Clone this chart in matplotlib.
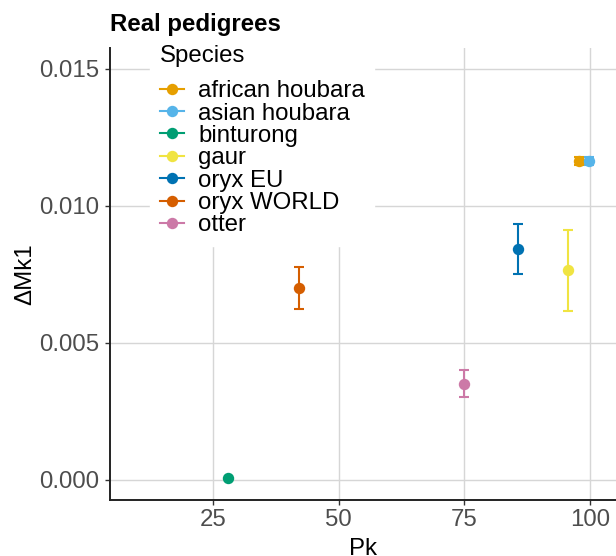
"""Real pedigrees: ΔMk1 vs Pk per species, with error bars."""
import matplotlib
matplotlib.use("Agg")
import matplotlib.pyplot as plt
from matplotlib.lines import Line2D

plt.rcParams["font.family"] = ["Liberation Sans", "DejaVu Sans"]

SPECIES = ["african houbara", "asian houbara", "binturong", "gaur",
           "oryx EU", "oryx WORLD", "otter"]
COLORS = ["#E69F00", "#56B4E9", "#009E73", "#F0E442",
          "#0072B2", "#D55E00", "#CC79A7"]

pk = [97.8, 99.8, 28.0, 95.6, 85.6, 42.1, 75.0]
dmk1 = [0.01164, 0.01164, 0.00007, 0.00766, 0.00843, 0.00701, 0.00350]
err_lo = [0.01148, 0.01148, 0.00007, 0.00618, 0.00752, 0.00624, 0.00303]
err_hi = [0.01180, 0.01180, 0.00007, 0.00911, 0.00934, 0.00777, 0.00401]

XTICKS = [25, 50, 75, 100]
YTICKS = [0.000, 0.005, 0.010, 0.015]

FS = 17.3
GREY_TXT = "#4D4D4D"

fig = plt.figure(figsize=(6.16, 5.56), dpi=100)
ax = fig.add_axes([110 / 616, 56 / 556, 506 / 616, 452 / 556])

for i, sp in enumerate(SPECIES):
    lo = dmk1[i] - err_lo[i]
    hi = err_hi[i] - dmk1[i]
    if hi > 0 or lo > 0:
        ax.errorbar(pk[i], dmk1[i], yerr=[[lo], [hi]], fmt="none",
                    ecolor=COLORS[i], elinewidth=1.5, capsize=3.4,
                    capthick=1.5, zorder=3)
    ax.plot(pk[i], dmk1[i], "o", color=COLORS[i], markersize=8.2,
            markeredgewidth=0, zorder=4)

ax.set_xlim(4.5, 105.2)
ax.set_ylim(-0.00073, 0.015766)
ax.set_xticks(XTICKS)
ax.set_yticks(YTICKS)
ax.set_xticklabels([str(t) for t in XTICKS])
ax.set_yticklabels([f"{t:.3f}" for t in YTICKS])
ax.grid(True, color="#D6D6D6", linewidth=1.0, zorder=0)
ax.set_axisbelow(True)

for side in ["top", "right"]:
    ax.spines[side].set_visible(False)
for side in ["left", "bottom"]:
    ax.spines[side].set_linewidth(1.4)
    ax.spines[side].set_color("#222222")
ax.tick_params(axis="both", labelsize=FS, colors=GREY_TXT, length=3.5,
               width=1.0, pad=3)
ax.tick_params(axis="y", pad=4.5)
ax.tick_params(axis="both", color="#333333")

ax.set_xlabel("Pk", fontsize=FS, labelpad=5)
ax.set_ylabel("ΔMk1", fontsize=FS, labelpad=1.5)

fig.text(110 / 616, 1 - 24 / 556, "Real pedigrees", fontsize=FS,
         fontweight="bold", ha="left", va="center")

handles = [Line2D([], [], color=c, marker="o", lw=1.5, markersize=8.2,
                  markeredgewidth=0) for c in COLORS]
leg = ax.legend(handles, SPECIES, title="Species", loc="upper left",
                bbox_to_anchor=(0.079, 1.028), borderaxespad=0,
                fontsize=FS, title_fontsize=FS, frameon=True,
                fancybox=False, edgecolor="white", facecolor="white",
                framealpha=1.0, labelspacing=0.015, handlelength=1.0,
                handletextpad=0.6, borderpad=0.4)
leg._legend_box.align = "left"
leg._legend_box.sep = 9.5

fig.savefig("out.png", dpi=100, facecolor="white")
